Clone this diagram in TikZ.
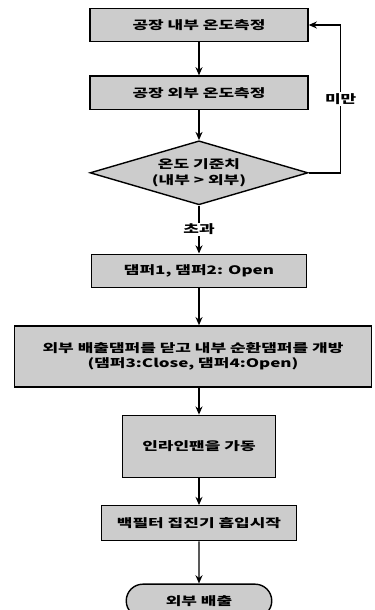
\documentclass[tikz,border=0pt]{standalone}
\usepackage{fontspec}
\setmainfont{Noto Sans CJK KR}[FakeStretch=1.45]
\usepackage{tikz}
\usetikzlibrary{shapes.geometric, shapes.misc, arrows.meta, positioning}

\begin{document}
\begin{tikzpicture}[
      stepbox/.style={rectangle, draw=black, line width=1.2pt, fill=gray!40,
                  minimum height=1.0cm, text centered, align=center,
                  font=\fontsize{10pt}{13pt}\selectfont\bfseries},
      decision/.style={diamond, draw=black, line width=1.2pt, fill=gray!40,
                  aspect=3.4, inner sep=0pt, minimum width=6.54cm,
                  minimum height=1.92cm, align=center,
                  font=\fontsize{10pt}{13pt}\selectfont\bfseries},
      term/.style={rounded rectangle, draw=black, line width=1.2pt, fill=gray!40,
                  minimum width=4.6cm, minimum height=1.0cm,
                  font=\fontsize{10pt}{13pt}\selectfont\bfseries},
      arr/.style={-{Stealth[length=7pt,width=6pt]}, line width=1.2pt, color=black},
      lbl/.style={fill=white, inner sep=1pt, font=\fontsize{10pt}{13pt}\selectfont\bfseries}
    ]
    \useasboundingbox (0,0) rectangle (11.22,18.3);

    \node[stepbox, minimum width=6.54cm] (inT) at (5.97,17.55) {공장 내부 온도측정};
    \node[stepbox, minimum width=6.54cm, below=0.99cm of inT] (outT) {공장 외부 온도측정};
    \node[decision, below=0.9cm of outT] (cmp) {온도 기준치\\(내부 > 외부)};
    \node[stepbox, minimum width=6.45cm, below=1.44cm of cmp] (dmp12) {댐퍼1, 댐퍼2: Open};
    \node[stepbox, minimum width=10.7cm, minimum height=1.83cm,
          below=1.11cm of dmp12, xshift=-0.18cm] (dmp34)
          {외부 배출댐퍼를 닫고 내부 순환댐퍼를 개방\\(댐퍼3:Close, 댐퍼4:Open)};
    \node[stepbox, minimum width=4.6cm, minimum height=1.86cm,
          below=0.81cm of dmp34, xshift=0.18cm] (fan) {인라인팬을 가동};
    \node[stepbox, minimum width=5.85cm, minimum height=1.05cm,
          below=0.81cm of fan] (bag) {백필터 집진기 흡입시작};
    \node[term, below=1.26cm of bag] (exh) {외부 배출};

    \draw[arr] (inT)  -- (outT);
    \draw[arr] (outT) -- (cmp);
    \draw[arr] (cmp)  -- node[lbl]{초과} (dmp12);
    \draw[arr] (dmp12) -- (dmp12 |- dmp34.north);
    \draw[arr] (dmp12 |- dmp34.south) -- (fan);
    \draw[arr] (fan)  -- (bag);
    \draw[arr] (bag)  -- (exh);

    % feedback loop
    \draw[arr] (cmp.east) -- ++(0.96,0) |- node[lbl, pos=0.25]{미만} (inT.east);
  \end{tikzpicture}
\end{document}
